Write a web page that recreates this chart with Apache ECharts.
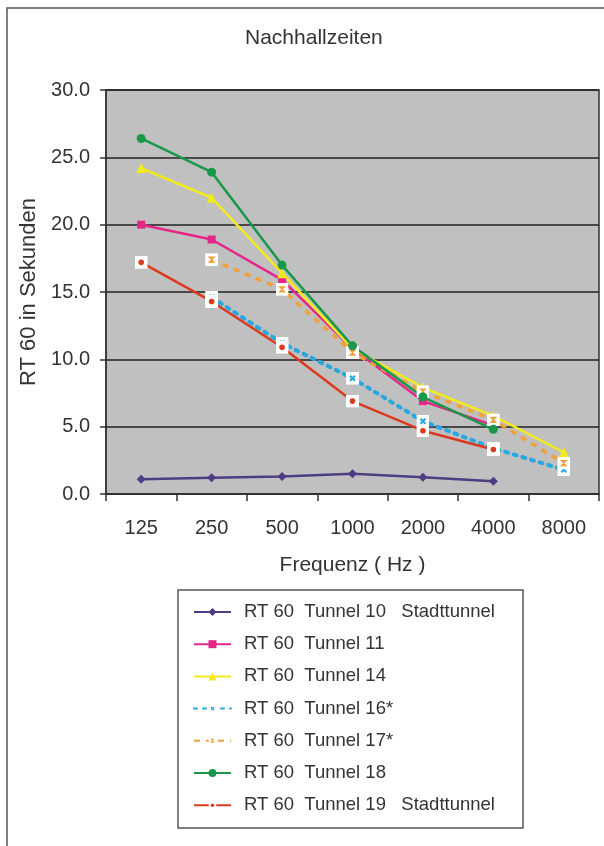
<!DOCTYPE html>
<html>
<head>
<meta charset="utf-8">
<script src="https://cdn.jsdelivr.net/npm/echarts@6/dist/echarts.min.js"></script>
<style>
html,body{margin:0;padding:0;background:#fff;}
#chart{width:604px;height:846px;}
</style>
</head>
<body>
<div id="chart"></div>
<script>
var categories = ['125', '250', '500', '1000', '2000', '4000', '8000'];
var seriesNames = [
    'RT 60  Tunnel 10   Stadttunnel',
    'RT 60  Tunnel 11',
    'RT 60  Tunnel 14',
    'RT 60  Tunnel 16*',
    'RT 60  Tunnel 17*',
    'RT 60  Tunnel 18',
    'RT 60  Tunnel 19   Stadttunnel'
];
var tunnel10 = [1.1, 1.2, 1.3, 1.5, 1.25, 0.95, null];
var tunnel11 = [20.0, 18.9, 15.9, 10.8, 6.9, 5.1, null];
var tunnel14 = [24.2, 22.0, 16.4, 10.8, 7.9, 5.8, 3.1];
var tunnel16 = [null, 14.6, 11.2, 8.6, 5.4, 3.4, 1.8];
var tunnel17 = [null, 17.4, 15.2, 10.5, 7.6, 5.5, 2.3];
var tunnel18 = [26.4, 23.9, 17.0, 11.0, 7.2, 4.8, null];
var tunnel19 = [17.2, 14.3, 10.9, 6.9, 4.7, 3.3, null];
var yTicks = [0, 5, 10, 15, 20, 25, 30];

var font = "'Liberation Sans', Arial, sans-serif";

// white box with a coloured mark inside, like the excel markers
function boxSymbol(color, mark){
    var inner = '';
    if(mark == 'x'){
        inner = '<path d="M4 4L9 9M9 4L4 9" stroke="' + color + '" stroke-width="2.2"/>';
    }else if(mark == 'hour'){
        inner = '<path d="M4 4H9L4 9H9Z" fill="' + color + '" stroke="' + color + '" stroke-width="1.2"/>';
    }else{
        inner = '<circle cx="6.5" cy="6.5" r="2.8" fill="' + color + '"/>';
    }
    var svg = '<svg xmlns="http://www.w3.org/2000/svg" width="13" height="13" viewBox="0 0 13 13">' +
        '<rect x="0" y="0" width="13" height="13" fill="#ffffff"/>' + inner + '</svg>';
    return 'image://data:image/svg+xml;utf8,' + encodeURIComponent(svg);
}

function makeLine(name, data, color, opts){
    return {
        name: name,
        type: 'line',
        data: data,
        symbol: opts.symbol,
        symbolSize: opts.size,
        connectNulls: false,
        lineStyle: {
            color: color,
            width: opts.width || 2.5,
            type: opts.type || 'solid',
            cap: opts.cap || 'butt'
        },
        itemStyle: {
            color: color
        },
        emphasis: {disabled: true},
        animation: false
    };
}

var chart = echarts.init(document.getElementById('chart'));
var option = {
    backgroundColor: '#ffffff',
    title: {
        text: 'Nachhallzeiten',
        left: 240,
        top: 23,
        textStyle: {
            fontFamily: font,
            fontSize: 21,
            fontWeight: 'normal',
            color: '#333'
        }
    },
    graphic: [{
        type: 'rect',
        shape: {x: 7, y: 8, width: 700, height: 900},
        style: {fill: 'none', stroke: '#555', lineWidth: 1.5},
        silent: true
    }, {
        type: 'rect',
        shape: {x: 178, y: 590, width: 345, height: 238},
        style: {fill: '#fff', stroke: '#555', lineWidth: 1.5},
        silent: true,
        z: 0
    }],
    grid: {
        left: 106,
        right: 5,
        top: 90,
        bottom: 352,
        show: true,
        backgroundColor: '#c0c0c0',
        borderColor: '#333',
        borderWidth: 1.5
    },
    legend: {
        orient: 'vertical',
        left: 193,
        top: 602,
        itemWidth: 37,
        itemHeight: 10,
        itemGap: 12.2,
        padding: 0,
        data: seriesNames,
        textStyle: {
            fontFamily: font,
            fontSize: 18.5,
            color: '#333',
            lineHeight: 20,
            padding: [0, 0, 0, 8]
        },
        z: 5
    },
    xAxis: {
        type: 'category',
        data: categories,
        boundaryGap: true,
        name: 'Frequenz ( Hz )',
        nameLocation: 'middle',
        nameGap: 61,
        nameTextStyle: {
            fontFamily: font,
            fontSize: 21,
            color: '#333'
        },
        axisLine: {lineStyle: {color: '#333', width: 1.5}},
        axisTick: {show: true, length: 7, lineStyle: {color: '#333', width: 1.5}},
        axisLabel: {
            margin: 24,
            fontFamily: font,
            fontSize: 20,
            color: '#333'
        },
        splitLine: {show: false}
    },
    yAxis: {
        type: 'value',
        min: yTicks[0],
        max: yTicks[yTicks.length - 1],
        interval: 5,
        name: 'RT 60 in Sekunden',
        nameLocation: 'middle',
        nameGap: 65,
        nameRotate: 90,
        nameTextStyle: {
            fontFamily: font,
            fontSize: 22,
            color: '#333'
        },
        axisLine: {show: true, lineStyle: {color: '#333', width: 1.5}},
        axisTick: {show: true, length: 6, lineStyle: {color: '#333', width: 1.5}},
        axisLabel: {
            margin: 16,
            fontFamily: font,
            fontSize: 20,
            color: '#333',
            formatter: function(v){ return v.toFixed(1); }
        },
        splitLine: {show: true, lineStyle: {color: '#222', width: 1.5}}
    },
    series: [
        makeLine(seriesNames[0], tunnel10, '#4e3d80', {symbol: 'diamond', size: 9}),
        makeLine(seriesNames[1], tunnel11, '#e4268a', {symbol: 'rect', size: 8}),
        makeLine(seriesNames[2], tunnel14, '#f3ea1a', {symbol: 'triangle', size: 10}),
        makeLine(seriesNames[3], tunnel16, '#27a8e0', {symbol: boxSymbol('#27a8e0', 'x'), size: 13, width: 4, type: [3, 6], cap: 'round'}),
        makeLine(seriesNames[4], tunnel17, '#f2a03a', {symbol: boxSymbol('#f2a03a', 'hour'), size: 13, width: 3.5, type: [6, 6]}),
        makeLine(seriesNames[5], tunnel18, '#18984a', {symbol: 'circle', size: 9}),
        makeLine(seriesNames[6], tunnel19, '#dc3a1e', {symbol: boxSymbol('#dc3a1e', 'dot'), size: 13})
    ]
};
chart.setOption(option);
</script>
</body>
</html>
